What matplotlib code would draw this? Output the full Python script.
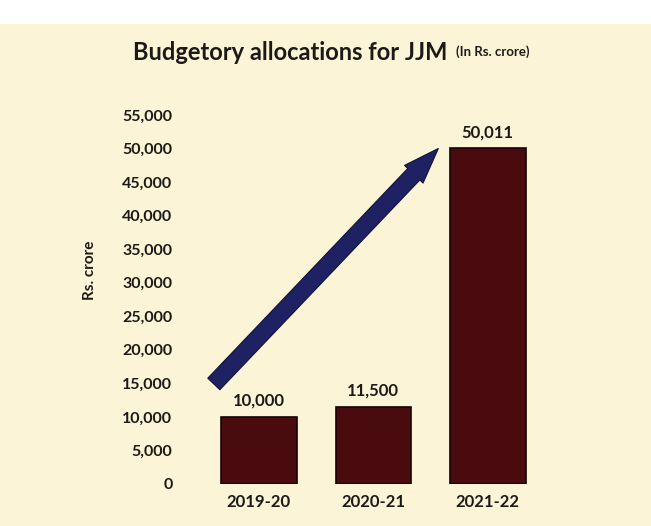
import matplotlib.pyplot as plt
from matplotlib.patches import Rectangle

# Budget allocations for Jal Jeevan Mission
years = ['2019-20', '2020-21', '2021-22']
allocations = [10000, 11500, 50011]
value_labels = ['10,000', '11,500', '50,011']
y_ticks = list(range(0, 55001, 5000))

plt.rcParams['font.family'] = ['Lato', 'DejaVu Sans']

paper = '#fbf4d6'
bar_color = '#4a0b0f'
arrow_color = '#1f2262'
text_color = '#1c1a17'

fig = plt.figure(figsize=(6.51, 5.26), dpi=100, facecolor=paper)
# white strip from the photo above the paper edge
fig.patches.append(Rectangle((0, 0.955), 1, 0.05, transform=fig.transFigure,
                             facecolor='white', edgecolor='none', zorder=0))

ax = fig.add_axes([0.284, 0.08, 0.576, 0.7015])
ax.set_facecolor(paper)

x = list(range(len(years)))
ax.bar(x, allocations, width=0.66, color=bar_color, edgecolor='#150303', linewidth=1.2)

for xi, v, lab in zip(x, allocations, value_labels):
    ax.text(xi, v + 1200, lab, ha='center', va='bottom', fontsize=12,
            fontweight='bold', color=text_color)

ax.set_xlim(-0.646, 2.63)
ax.set_ylim(0, 55000)
ax.set_yticks(y_ticks)
ax.set_yticklabels([f'{t:,}' for t in y_ticks], fontsize=11.5, fontweight='bold', color=text_color)
ax.set_xticks(x)
ax.set_xticklabels(years, fontsize=12, fontweight='bold', color=text_color)
ax.tick_params(axis='both', length=0)
ax.tick_params(axis='y', pad=9)
ax.tick_params(axis='x', pad=7)
for s in ax.spines.values():
    s.set_visible(False)

ax.set_ylabel('Rs. crore', fontsize=11, fontweight='bold', color=text_color)
ax.yaxis.set_label_coords(-0.235, 0.58)

# growth arrow
ax.annotate('', xy=(1.585, 50300), xytext=(-0.41, 14600),
            arrowprops=dict(arrowstyle='simple,head_length=1.6,head_width=1.15,tail_width=0.75',
                            mutation_scale=16, facecolor=arrow_color, edgecolor='#10123a',
                            linewidth=0.8))

fig.text(0.205, 0.9, 'Budgetory allocations for JJM', fontsize=17, fontweight='bold',
         color=text_color, ha='left', va='center')
fig.text(0.700, 0.902, '(In Rs. crore)', fontsize=9.5, fontweight='bold',
         color=text_color, ha='left', va='center')

fig.savefig('out.png', dpi=100, facecolor=paper)
